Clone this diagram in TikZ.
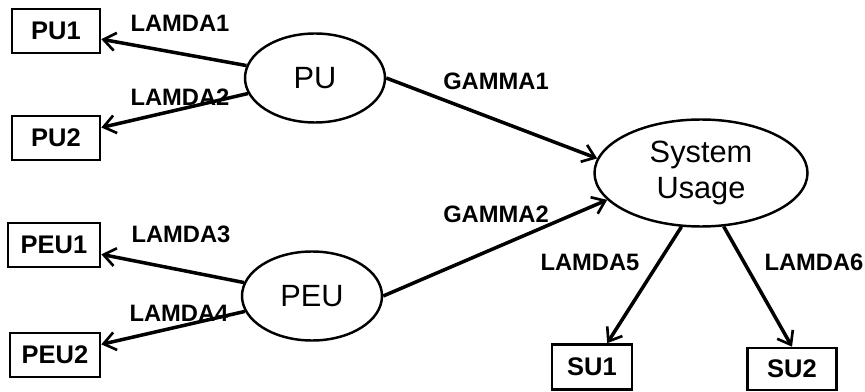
\documentclass[tikz,border=0pt]{standalone}
\usepackage{fontspec}
\setmainfont{Liberation Sans}
\usetikzlibrary{shapes.geometric, arrows.meta}
\tikzstyle{latent}=[ellipse, draw, line width=1.4pt, inner sep=0pt, minimum width=2.8cm, minimum height=1.78cm, align=center, font=\fontsize{17.5}{21}\selectfont]
\tikzstyle{indicator}=[rectangle, draw, line width=1.5pt, inner sep=0pt, minimum width=1.76cm, minimum height=0.88cm, font=\fontsize{14.5}{17}\selectfont\bfseries]
\tikzstyle{loading}=[line width=2pt, -{Straight Barb[length=2.4mm,width=3.6mm,line width=1.5pt]}]
\tikzstyle{coef}=[inner sep=0pt, font=\fontsize{13.5}{16}\selectfont\bfseries]
\newcommand{\indicator}{\node[indicator]}

\begin{document}
\begin{tikzpicture}
\useasboundingbox (0,0) rectangle (17.3,7.82);
\node[latent] (pu) at (6.3,6.26) {PU};
\node[latent] (peu) at (6.24,1.9) {PEU};
\node[latent, minimum width=4.26cm, minimum height=2.14cm] (su) at (14.02,4.36) {System\\Usage};
\indicator (pu1) at (1.12,7.2) {PU1};
\indicator (pu2) at (1.12,5.06) {PU2};
\indicator[minimum width=1.84cm] (peu1) at (1.08,2.92) {PEU1};
\indicator[minimum width=1.8cm] (peu2) at (1.1,0.72) {PEU2};
\indicator[minimum width=1.6cm, minimum height=0.9cm] (su1) at (11.84,0.48) {SU1};
\indicator[minimum width=1.78cm, minimum height=0.84cm] (su2) at (15.84,0.44) {SU2};
\foreach \n/\x/\y in {1/3.6/7.36, 2/3.6/5.88, 3/3.62/3.14, 4/3.58/1.56, 5/11.8/2.58, 6/16.28/2.58}{
	\node[coef] (lamda\n) at (\x,\y) {LAMDA\n};
	}
\foreach \n/\y in {1/6.2, 2/3.54}{
	\node[coef] (gamma\n) at (9.92,\y) {GAMMA\n};
	}
\draw[loading] (pu) -- (pu1);
\draw[loading] (pu) -- (pu2);
\draw[loading] (peu) -- (peu1);
\draw[loading] (peu) -- (peu2);
\draw[loading] (pu.east) -- (su.172);
\draw[loading] (peu.east) -- (su.196);
\draw[loading] (su.250) -- (su1);
\draw[loading] (su.293) -- (su2.north);
\end{tikzpicture}
\end{document}
